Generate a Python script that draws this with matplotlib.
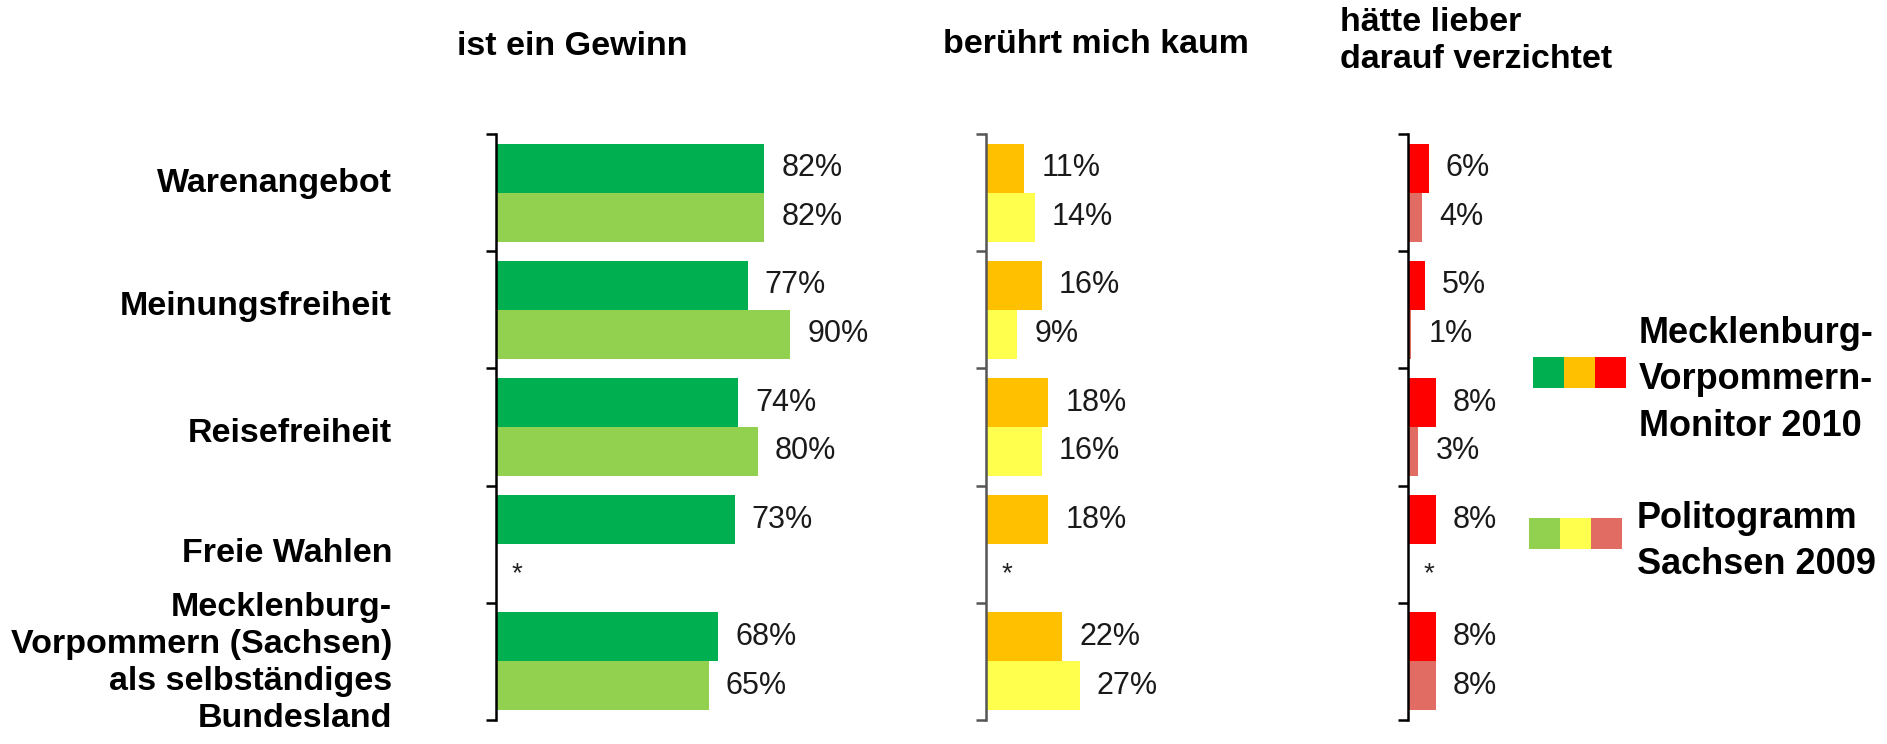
import matplotlib
matplotlib.use("Agg")
import matplotlib.pyplot as plt
import matplotlib.transforms as mtransforms
from matplotlib.patches import Rectangle

plt.rcParams['font.family'] = ['Liberation Sans', 'DejaVu Sans']

# data
categories = ["Warenangebot", "Meinungsfreiheit", "Reisefreiheit", "Freie Wahlen",
              "Mecklenburg-\nVorpommern (Sachsen)\nals selbständiges\nBundesland"]
headers = ["ist ein Gewinn", "berührt mich kaum", "hätte lieber\ndarauf verzichtet"]
series_names = ["Mecklenburg-\nVorpommern-\nMonitor 2010", "Politogramm\nSachsen 2009"]

gewinn_mv = [82, 77, 74, 73, 68]
gewinn_sn = [82, 90, 80, None, 65]
kaum_mv = [11, 16, 18, 18, 22]
kaum_sn = [14, 9, 16, None, 27]
verz_mv = [6, 5, 8, 8, 8]
verz_sn = [4, 1, 3, None, 8]

colors_mv = ['#00B050', '#FFC000', '#FF0000']
colors_sn = ['#92D050', '#FFFF4D', '#E06C64']

W, H = 1887, 744
fig = plt.figure(figsize=(W / 100, H / 100), dpi=100)

def fx(x):
    return x / W

def fy(y):
    return 1 - y / H

# panel layout in pixels: left edge, px per percent, spine color
panels = [
    (496, 3.27, '#000000', gewinn_mv, gewinn_sn),
    (986, 3.47, '#555555', kaum_mv, kaum_sn),
    (1408, 3.45, '#000000', verz_mv, verz_sn),
]
top, bottom = 134, 720
n = len(categories)
bh = 0.418

axes = []
for k, (x0, scale, spc, mv, sn) in enumerate(panels):
    xmax = 100 if k == 0 else 30
    ax = fig.add_axes([fx(x0), fy(bottom), scale * xmax / W, (bottom - top) / H])
    ax.set_xlim(0, xmax)
    ax.set_ylim(n, 0)
    for s in ['top', 'right', 'bottom']:
        ax.spines[s].set_visible(False)
    ax.spines['left'].set_color(spc)
    ax.spines['left'].set_linewidth(1.8)
    ax.set_xticks([])
    ax.set_yticks(range(n + 1))
    ax.set_yticklabels([])
    ax.tick_params(axis='y', length=7, width=1.8, color=spc, direction='out')

    for i in range(n):
        y1 = i + 0.5 - bh / 2
        y2 = i + 0.5 + bh / 2
        ax.barh(y1, mv[i], height=bh, color=colors_mv[k], edgecolor='none')
        ax.text(mv[i], y1, f"{mv[i]}%", va='center', ha='left',
                fontsize=22, color='#1a1a1a')
        if sn[i] is None:
            ax.text(0, y2, "*", va='center', ha='left', fontsize=20, color='#222222')
        else:
            ax.barh(y2, sn[i], height=bh, color=colors_sn[k], edgecolor='none')
            ax.text(sn[i], y2, f"{sn[i]}%", va='center', ha='left',
                    fontsize=22, color='#1a1a1a')
    axes.append(ax)

# shift value labels / asterisks by a fixed pixel offset
for ax in axes:
    for t in ax.texts:
        if t.get_text() == "*":
            off = mtransforms.ScaledTranslation(16 / 100, -6 / 100, fig.dpi_scale_trans)
        else:
            off = mtransforms.ScaledTranslation(17 / 100, 0, fig.dpi_scale_trans)
        t.set_transform(ax.transData + off)

# category labels (single lines by baseline, the long one by its top)
label_base = [192, 315, 442, 562]
for lab, yb in zip(categories[:4], label_base):
    fig.text(fx(392), fy(yb), lab, ha='right', va='baseline', fontsize=24.5,
             fontweight='bold')
fig.text(fx(392), fy(592), categories[4], ha='right', va='top', fontsize=24.5,
         fontweight='bold', linespacing=1.25)

# column headers
fig.text(fx(572), fy(55), headers[0], ha='center', va='baseline', fontsize=24.5, fontweight='bold')
fig.text(fx(1096), fy(53), headers[1], ha='center', va='baseline', fontsize=24.5, fontweight='bold')
fig.text(fx(1340), fy(7), headers[2], ha='left', va='top', fontsize=24.5,
         fontweight='bold', linespacing=1.25)

# legend
for j, (cols, x0, y0, tx, tt) in enumerate([(colors_mv, 1533, 357, 1639, 316),
                                           (colors_sn, 1529, 518, 1637, 501)]):
    for c, col in enumerate(cols):
        fig.add_artist(Rectangle((fx(x0 + c * 31), fy(y0 + 31)), 31 / W, 31 / H,
                                 transform=fig.transFigure, color=col, lw=0))
    fig.text(fx(tx), fy(tt), series_names[j], ha='left', va='top', fontsize=26,
             fontweight='bold', linespacing=1.42)

fig.savefig("out.png", dpi=100, facecolor='white')
